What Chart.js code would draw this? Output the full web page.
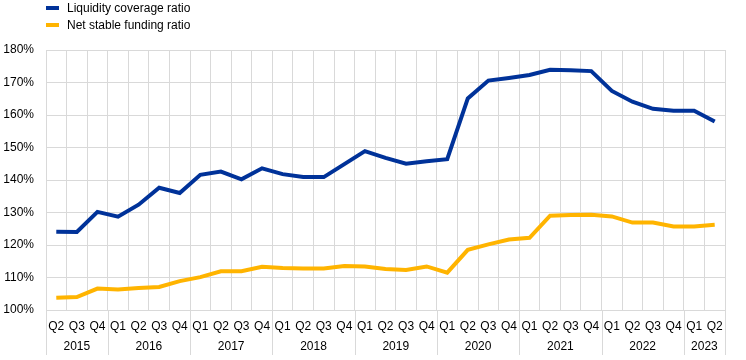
<!DOCTYPE html>
<html>
<head>
<meta charset="utf-8">
<script src="https://cdn.jsdelivr.net/npm/chart.js@4.4.0/dist/chart.umd.min.js"></script>
<style>
  body { margin: 0; background: #fff; }
  #wrap { position: relative; width: 746px; height: 360px; }
  #legend { position: absolute; left: 46px; top: 0px; font: 12px "Liberation Sans", Arial, sans-serif; color: #000; }
  .item { height: 17px; line-height: 17px; }
  .sw { display: inline-block; width: 13px; height: 4px; vertical-align: middle; margin-right: 8px; margin-top: -2px; }
</style>
</head>
<body>
<div id="wrap">
  <canvas id="ratioChart" width="746" height="360"></canvas>
  <div id="legend"></div>
</div>
<script>
// quarters, 2015 Q2 to 2023 Q2
var quarters = ["Q2","Q3","Q4",
  "Q1","Q2","Q3","Q4", "Q1","Q2","Q3","Q4", "Q1","Q2","Q3","Q4",
  "Q1","Q2","Q3","Q4", "Q1","Q2","Q3","Q4", "Q1","Q2","Q3","Q4",
  "Q1","Q2","Q3","Q4", "Q1","Q2"];
var years = ["2015","2016","2017","2018","2019","2020","2021","2022","2023"];
var quartersPerYear = [3, 4, 4, 4, 4, 4, 4, 4, 2];

var lcr = [124.1, 124.0, 130.2,
  128.7, 132.4, 137.6, 136.0,
  141.6, 142.6, 140.2, 143.6,
  141.8, 140.9, 140.9, 144.9,
  148.9, 146.8, 145.0, 145.8,
  146.4, 165.1, 170.6, 171.4,
  172.3, 173.9, 173.8, 173.5,
  167.4, 164.1, 161.9, 161.3,
  161.3, 158.0];
var nsfr = [103.8, 104.0, 106.6,
  106.3, 106.8, 107.1, 108.9,
  110.1, 111.9, 111.9, 113.3,
  112.9, 112.8, 112.8, 113.5,
  113.4, 112.6, 112.3, 113.4,
  111.5, 118.5, 120.2, 121.7,
  122.2, 129.0, 129.2, 129.3,
  128.8, 126.9, 126.9, 125.7,
  125.7, 126.2];

var seriesNames = ["Liquidity coverage ratio", "Net stable funding ratio"];
var seriesColors = ["#003299", "#FFB400"];

var gridColor = "#d9d9d9";
var fontFamily = '"Liberation Sans", Arial, sans-serif';

// year labels and separators under the quarter ticks
var yearAxisPlugin = {
  id: "yearAxis",
  afterDraw: function (chart) {
    var ctx = chart.ctx;
    var area = chart.chartArea;
    var step = (area.right - area.left) / quarters.length;
    ctx.save();
    ctx.strokeStyle = gridColor;
    ctx.lineWidth = 1;
    ctx.fillStyle = "#000";
    ctx.font = "12px " + fontFamily;
    ctx.textAlign = "center";
    ctx.textBaseline = "middle";
    var start = 0;
    for (var i = 0; i <= years.length; i++) {
      var x = Math.round(area.left + start * step) + 0.5;
      ctx.beginPath();
      ctx.moveTo(x, area.bottom);
      ctx.lineTo(x, 355);
      ctx.stroke();
      if (i < years.length) {
        var end = start + quartersPerYear[i];
        ctx.fillText(years[i], area.left + (start + end) / 2 * step, 347);
        start = end;
      }
    }
    ctx.restore();
  }
};

var ctx = document.getElementById("ratioChart").getContext("2d");
var ratioChart = new Chart(ctx, {
  type: "line",
  data: {
    labels: quarters,
    datasets: [
      {
        label: seriesNames[0],
        data: lcr,
        borderColor: seriesColors[0],
        backgroundColor: seriesColors[0],
        borderWidth: 4,
        pointRadius: 0,
        tension: 0,
      },
      {
        label: seriesNames[1],
        data: nsfr,
        borderColor: seriesColors[1],
        backgroundColor: seriesColors[1],
        borderWidth: 4,
        pointRadius: 0,
        tension: 0,
      },
    ],
  },
  options: {
    responsive: false,
    animation: false,
    layout: { padding: { top: 50, right: 21, bottom: 0, left: 0 } },
    plugins: {
      legend: { display: false },
      tooltip: { enabled: false },
    },
    scales: {
      x: {
        offset: true,
        grid: { offset: true, color: gridColor, drawTicks: false },
        border: { color: gridColor },
        ticks: {
          color: "#000",
          font: { family: fontFamily, size: 12 },
          padding: 9,
          maxRotation: 0,
          autoSkip: false,
        },
        afterFit: function (scale) { scale.height = 50; },
      },
      y: {
        min: 100,
        max: 180,
        grid: { color: gridColor, drawTicks: false },
        border: { color: gridColor },
        ticks: {
          stepSize: 10,
          color: "#000",
          font: { family: fontFamily, size: 12 },
          padding: 12,
          callback: function (v) { return v + "%"; },
        },
        afterFit: function (scale) { scale.width = 46; },
      },
    },
  },
  plugins: [yearAxisPlugin],
});

// legend as html, stacked like the original
var legendEl = document.getElementById("legend");
seriesNames.forEach(function (name, i) {
  var div = document.createElement("div");
  div.className = "item";
  div.innerHTML = '<span class="sw" style="background:' + seriesColors[i] + '"></span>' + name;
  legendEl.appendChild(div);
});
</script>
</body>
</html>
